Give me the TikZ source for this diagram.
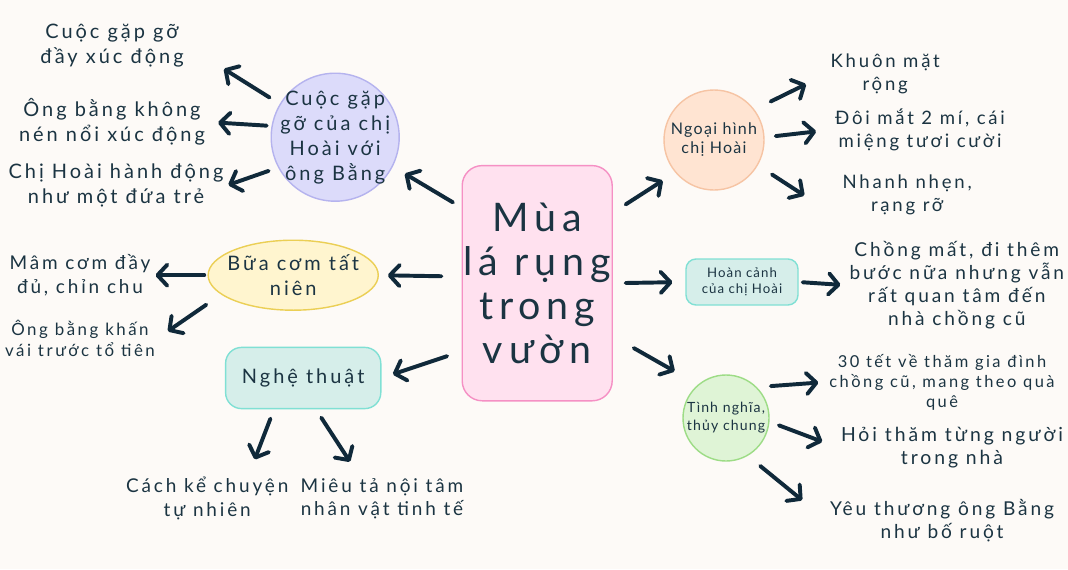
\documentclass[tikz,border=0pt]{standalone}
\usepackage{fontspec}
\setmainfont{Lato}[LetterSpace=15]
\newfontfamily\titlefont{Lato}[LetterSpace=15]
\newfontfamily\smallfont{Lato}[LetterSpace=8]
\usepackage{xcolor}
\usepackage{tikz}
\usetikzlibrary{arrows.meta, shapes.geometric}

\definecolor{paper}{HTML}{FDFAF7}
\definecolor{ink}{HTML}{1B3442}
\definecolor{arrowc}{HTML}{10293A}
\definecolor{pinkfill}{HTML}{FFE1EF}
\definecolor{pinkline}{HTML}{F590C4}
\definecolor{lilacfill}{HTML}{DCDBFA}
\definecolor{lilacline}{HTML}{B5B3EE}
\definecolor{yellowfill}{HTML}{FFF5CF}
\definecolor{yellowline}{HTML}{EBCF55}
\definecolor{tealfill}{HTML}{D6EEEA}
\definecolor{tealline}{HTML}{80E0D4}
\definecolor{peachfill}{HTML}{FFE4D2}
\definecolor{peachline}{HTML}{F6C4A4}
\definecolor{greenfill}{HTML}{DFF4D6}
\definecolor{greenline}{HTML}{9DDC86}

\newcommand\fsz[2]{\fontsize{#1}{#2}\selectfont}

\begin{document}
\begin{tikzpicture}[every node/.style={text=ink},
  lbl/.style={align=center, inner sep=2pt, font=\fsz{14.2pt}{17.8pt}},
  bubble/.style={circle, align=center, line width=1pt},
  arr/.style={draw=arrowc, line width=2.8pt, line cap=round,
              -{Straight Barb[length=7pt, width=15pt, round]}}]

  \useasboundingbox (0,0) rectangle (26.7,-14.225);
  \fill[paper] (0,0) rectangle (26.7,-14.225);

  % centre
  \node[draw=pinkline, fill=pinkfill, line width=1pt, rounded corners=0.5cm,
        minimum width=3.75cm, minimum height=5.88cm, inner sep=1pt, align=center,
        font=\titlefont\fsz{28pt}{31.3pt}] (mua) at (13.43,-7.08)
    {Mùa\\lá rụng\\trong\\vườn};

  % left side
  \node[bubble, draw=lilacline, fill=lilacfill, minimum size=3.2cm, inner sep=-14pt,
        font=\fsz{14.2pt}{17.8pt}] (meet) at (8.38,-3.43)
    {Cuộc gặp\\gỡ của chị\\Hoài với\\ông Bằng};
  \node[lbl] (meet1) at (2.8,-1.14) {Cuộc gặp gỡ\\đầy xúc động};
  \node[lbl] (meet2) at (2.8,-3.05) {Ông bằng không\\nén nổi xúc động};
  \node[lbl] (meet3) at (2.9,-4.64) {Chị Hoài hành động\\như một đứa trẻ};

  \node[ellipse, draw=yellowline, fill=yellowfill, line width=1pt, align=center,
        minimum width=4.15cm, minimum height=1.75cm, inner sep=-4pt,
        font=\fsz{14.2pt}{17.2pt}] (meal) at (7.33,-6.88) {Bữa cơm tất\\niên};
  \node[lbl, font=\fsz{13.5pt}{17pt}] (meal1) at (2.0,-6.88) {Mâm cơm đầy\\đủ, chỉn chu};
  \node[lbl, font=\fsz{12pt}{15pt}] (meal2) at (2.0,-8.45) {Ông bằng khấn\\vái trước tổ tiên};

  \node[draw=tealline, fill=tealfill, line width=1pt, rounded corners=0.4cm,
        minimum width=3.88cm, minimum height=1.53cm,
        font=\fsz{14.2pt}{17pt}] (art) at (7.58,-9.45) {Nghệ thuật};
  \node[lbl, font=\fsz{13.5pt}{16.4pt}] (art1) at (5.18,-12.46) {Cách kể chuyện\\tự nhiên};
  \node[lbl, font=\fsz{13.5pt}{16.4pt}] (art2) at (9.55,-12.46) {Miêu tả nội tâm\\nhân vật tinh tế};

  % right side
  \node[bubble, draw=peachline, fill=peachfill, minimum size=2.5cm, inner sep=-6pt,
        font=\smallfont\fsz{11.4pt}{13.5pt}] (look) at (17.85,-3.5) {Ngoại hình\\chị Hoài};
  \node[lbl, font=\fsz{13.2pt}{16.4pt}] (look1) at (22.13,-1.84) {Khuôn mặt\\rộng};
  \node[lbl, font=\fsz{13.2pt}{16.4pt}] (look2) at (23.0,-3.24) {Đôi mắt 2 mí, cái\\miệng tươi cười};
  \node[lbl, font=\fsz{13.2pt}{16.4pt}] (look3) at (22.68,-4.88) {Nhanh nhẹn,\\rạng rỡ};

  \node[draw=tealline, fill=tealfill, line width=1pt, rounded corners=0.25cm,
        minimum width=2.8cm, minimum height=1.15cm, align=center,
        font=\smallfont\fsz{9.4pt}{11.4pt}] (life) at (18.55,-7.05) {Hoàn cảnh\\của chị Hoài};
  \node[lbl, font=\fsz{13.6pt}{16.4pt}] (life1) at (23.92,-7.13)
    {Chồng mất, đi thêm\\bước nữa nhưng vẫn\\rất quan tâm đến\\nhà chồng cũ};

  \node[bubble, draw=greenline, fill=greenfill, minimum size=2.15cm, inner sep=-6pt,
        font=\smallfont\fsz{10pt}{12.8pt}] (loyal) at (18.15,-10.45) {Tình nghĩa,\\thủy chung};
  \node[lbl, font=\fsz{11.7pt}{14.2pt}] (loyal1) at (23.55,-9.55)
    {30 tết về thăm gia đình\\chồng cũ, mang theo quà\\quê};
  \node[lbl, font=\fsz{13.8pt}{16.4pt}] (loyal2) at (23.8,-11.19) {Hỏi thăm từng người\\trong nhà};
  \node[lbl, font=\fsz{13.6pt}{16.4pt}] (loyal3) at (23.55,-13.01) {Yêu thương ông Bằng\\như bố ruột};

  % centre to branches
  \draw[arr, shorten <=0.25cm, shorten >=0.35cm] (mua.135) -- (meet.333);
  \draw[arr, shorten <=0.5cm, shorten >=0.22cm] (mua.175) -- (meal.east);
  \draw[arr, shorten <=0.38cm, shorten >=0.3cm] (mua.222) -- (art.east);
  \draw[arr, shorten <=0.38cm, shorten >=0.37cm] (mua.43) -- (look.220);
  \draw[arr, shorten <=0.32cm, shorten >=0.32cm] (mua.east) -- (life.west);
  \draw[arr, shorten <=0.6cm, shorten >=0.67cm] (mua.-35) -- (loyal.130);

  % branches to leaves
  \draw[arr, shorten <=0.3cm, shorten >=1.1cm] (meet.149) -- (meet1.east);
  \draw[arr, shorten <=0.12cm, shorten >=0.25cm] (meet.170) -- (meet2.east);
  \draw[arr, shorten <=0.25cm, shorten >=0.05cm] (meet.208) -- (meet3.east);
  \draw[arr, shorten <=0.08cm, shorten >=0.05cm] (meal.west) -- (meal1.east);
  \draw[arr, shorten <=0.45cm, shorten >=0.3cm] (meal.195) -- (meal2.east);
  \draw[arr, shorten <=0.25cm, shorten >=0.4cm] (art.227) -- (art1.30);
  \draw[arr, shorten <=0.25cm, shorten >=0.4cm] (art.292) -- (art2.135);
  \draw[arr, shorten <=0.45cm, shorten >=0.6cm] (look.37) -- (look1.west);
  \draw[arr, shorten <=0.28cm, shorten >=0.4cm] (look.3) -- (look2.west);
  \draw[arr, shorten <=0.42cm, shorten >=1.05cm] (look.330) -- (look3.south west);
  \draw[arr, shorten <=0.1cm, shorten >=0.15cm] (life.east) -- (life1.west);
  \draw[arr, shorten <=0.35cm, shorten >=0.2cm] (loyal.45) -- (loyal1.west);
  \draw[arr, shorten <=0.25cm, shorten >=0.42cm] (loyal.-5) -- (loyal2.west);
  \draw[arr, shorten <=0.4cm, shorten >=0.8cm] (loyal.-60) -- (loyal3.west);
\end{tikzpicture}
\end{document}
